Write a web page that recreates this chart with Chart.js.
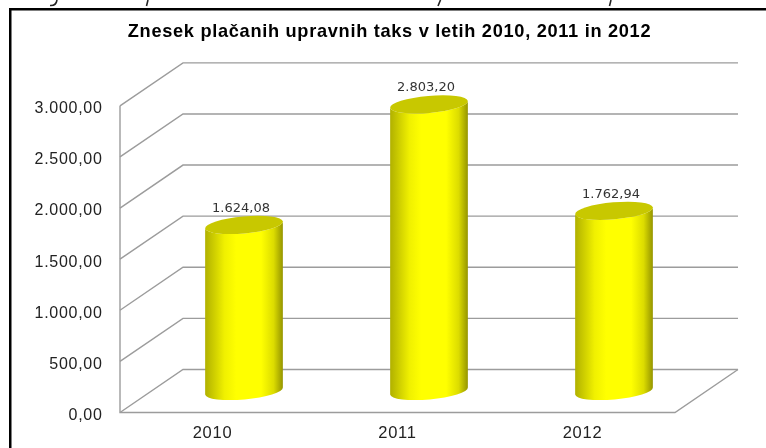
<!DOCTYPE html>
<html>
<head>
<meta charset="utf-8">
<style>
  html, body { margin: 0; padding: 0; background: #fff; overflow: hidden; }
  canvas { display: block; }
</style>
<script src="https://cdn.jsdelivr.net/npm/chart.js@4/dist/chart.umd.min.js"></script>
</head>
<body>
<canvas id="myChart" width="766" height="448"></canvas>
<script>
var categories = ['2010', '2011', '2012'];
var values = [1624.08, 2803.20, 1762.94];
var chartTitle = 'Znesek plačanih upravnih taks v letih 2010, 2011 in 2012';

// depth of the fake 3d box
var depthX = 63, depthY = 43;

function fmt(v) {
    var parts = v.toFixed(2).split('.');
    return parts[0].replace(/\B(?=(\d{3})+$)/g, '.') + ',' + parts[1];
}

var scene = {
    id: 'scene',
    afterLayout: function (chart) {
        chart.titleBlock.left -= 16;
    },
    beforeDraw: function (chart) {
        var ctx = chart.ctx;
        ctx.save();
        // page frame and the cut off line of text above it
        ctx.fillStyle = '#fff';
        ctx.fillRect(0, 0, 766, 448);
        ctx.fillStyle = '#000';
        ctx.fillRect(9, 8, 757, 2.5);
        ctx.fillRect(9, 8, 2.5, 440);
        ctx.strokeStyle = '#222';
        ctx.lineWidth = 1.6;
        [[146.5, 148], [438, 440.5], [609.5, 611]].forEach(function (p) {
            ctx.beginPath();
            ctx.moveTo(p[1], 0);
            ctx.lineTo(p[0], 6);
            ctx.stroke();
        });
        ctx.beginPath();
        ctx.moveTo(57, 0);
        ctx.quadraticCurveTo(56, 6, 50, 5.5);
        ctx.stroke();
        ctx.restore();
        // the original text is a bit stretched sideways
        ctx.letterSpacing = '0.7px';
    },
    beforeDatasetsDraw: function (chart) {
        var ctx = chart.ctx, y = chart.scales.y, a = chart.chartArea;
        ctx.save();
        ctx.strokeStyle = '#9c9c9c';
        ctx.lineWidth = 1.4;
        y.ticks.forEach(function (t) {
            var py = y.getPixelForValue(t.value);
            ctx.beginPath();
            ctx.moveTo(a.left, py);
            ctx.lineTo(a.left + depthX, py - depthY);
            ctx.lineTo(a.right + depthX, py - depthY);
            ctx.stroke();
        });
        // left wall edge and floor
        var y0 = y.getPixelForValue(0);
        ctx.beginPath();
        ctx.moveTo(a.left, y.getPixelForValue(3000));
        ctx.lineTo(a.left, y0);
        ctx.lineTo(a.right, y0);
        ctx.lineTo(a.right + depthX, y0 - depthY);
        ctx.stroke();
        ctx.restore();
    },
    afterDatasetsDraw: function (chart) {
        var ctx = chart.ctx;
        var tilt = -5 * Math.PI / 180;
        chart.getDatasetMeta(0).data.forEach(function (bar, i) {
            var rx = bar.width / 2, ry = 8.5;
            var cx = bar.x + depthX / 2;
            var top = bar.y - depthY / 2;
            var bot = bar.base - depthY / 2;
            var grad = ctx.createLinearGradient(cx - rx, 0, cx + rx, 0);
            grad.addColorStop(0, '#b0b000');
            grad.addColorStop(0.25, '#f0f000');
            grad.addColorStop(0.4, '#ffff00');
            grad.addColorStop(0.72, '#ffff00');
            grad.addColorStop(0.88, '#dcdc00');
            grad.addColorStop(1, '#949400');
            ctx.save();
            ctx.beginPath();
            ctx.ellipse(cx, top, rx, ry, tilt, Math.PI, 0, true);
            ctx.ellipse(cx, bot, rx, ry, tilt, 0, Math.PI, false);
            ctx.closePath();
            ctx.fillStyle = grad;
            ctx.fill();
            ctx.beginPath();
            ctx.ellipse(cx, top, rx, ry, tilt, 0, Math.PI * 2);
            ctx.fillStyle = '#c8c800';
            ctx.fill();
            // value label
            ctx.letterSpacing = '0px';
            ctx.fillStyle = '#333';
            ctx.font = '13px "DejaVu Sans"';
            ctx.textAlign = 'center';
            ctx.textBaseline = 'middle';
            ctx.fillText(fmt(values[i]), cx - 3, top - 16.5);
            ctx.restore();
        });
    }
};

new Chart(document.getElementById('myChart'), {
    type: 'bar',
    data: {
        labels: categories,
        datasets: [{
            data: values,
            backgroundColor: 'rgba(0,0,0,0)',
            barPercentage: 0.4216,
            categoryPercentage: 1
        }]
    },
    options: {
        responsive: false,
        devicePixelRatio: 1,
        animation: false,
        layout: { padding: { right: 91, top: 0, left: 0, bottom: 0 } },
        plugins: {
            legend: { display: false },
            tooltip: { enabled: false },
            title: {
                display: true,
                text: chartTitle,
                color: '#000',
                fullSize: false,
                font: { family: '"Liberation Sans"', size: 18.2, weight: 'bold' },
                padding: { top: 21, bottom: 63 }
            }
        },
        scales: {
            x: {
                grid: { display: false },
                border: { display: false },
                afterFit: function (s) { s.height = 35.5; },
                ticks: {
                    color: '#222',
                    padding: 3,
                    font: { family: '"Liberation Sans"', size: 16.5 }
                }
            },
            y: {
                min: 0,
                max: 3000,
                grid: { display: false },
                border: { display: false },
                afterFit: function (s) { s.width = 120; },
                ticks: {
                    stepSize: 500,
                    color: '#222',
                    padding: 9.5,
                    labelOffset: 3,
                    font: { family: '"Liberation Sans"', size: 16 },
                    callback: function (v) { return fmt(v); }
                }
            }
        }
    },
    plugins: [scene]
});
</script>
</body>
</html>
